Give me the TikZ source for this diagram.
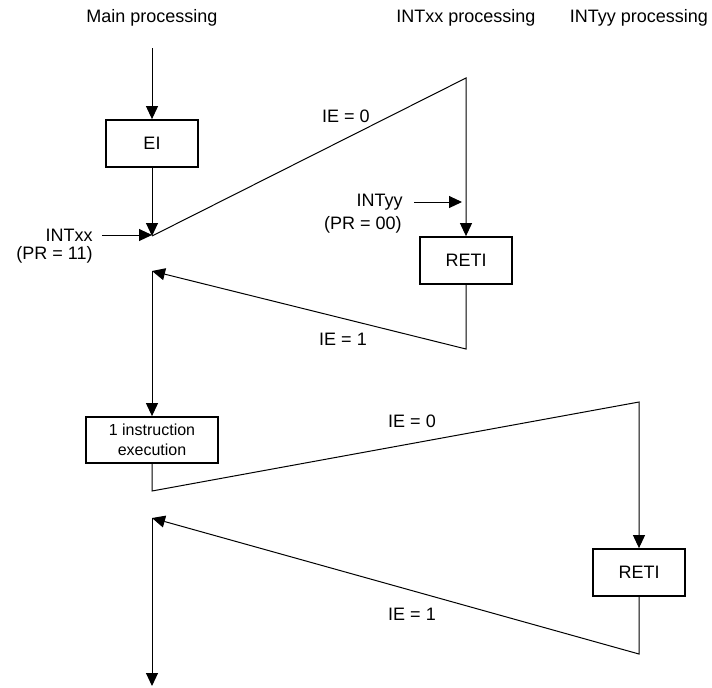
\documentclass[tikz,border=0pt]{standalone}
\usepackage{fontspec}
\setmainfont{Liberation Sans}
\usetikzlibrary{arrows.meta,positioning}
\tikzset{
  procblk/.style={draw,rectangle,line width=0.9pt,minimum width=46pt,minimum height=23.5pt,inner sep=1pt,align=center,font=\fontsize{9}{11}\selectfont},
  smallblk/.style={procblk,minimum width=66pt,minimum height=23pt,font=\fontsize{8}{10}\selectfont},
  arr/.style={-{Triangle[length=6.5pt,width=6pt]},line width=0.5pt},
  lbl/.style={font=\fontsize{9}{11}\selectfont,inner sep=0pt}
}

\begin{document}
\begin{tikzpicture}[x=0.5pt,y=-0.5pt]
  \useasboundingbox (0,0) rectangle (712,687);
  % column headings
  \node[lbl] (mainhd) at (152,18) {Main processing};
  \node[lbl] (xxhd) at (466,18) {INTxx processing};
  \node[lbl] (yyhd) at (639,18) {INTyy processing};

  % main processing
  \coordinate (start) at (152,48);
  \node[procblk] (ei) at (152,143.5) {EI};
  \coordinate (acc1) at (152,236);
  \coordinate (ret1) at (152,271);
  \node[smallblk] (one) at (152,440) {1 instruction\\execution};
  \coordinate (acc2) at (152,491);
  \coordinate (ret2) at (152,518);
  \coordinate (stop) at (152,686);

  % INTxx processing
  \coordinate (top1) at (466,78);
  \node[procblk] (reti1) at (466,260.5) {RETI};
  \coordinate (bot1) at (466,349);

  % INTyy processing
  \coordinate (top2) at (639,402);
  \node[procblk] (reti2) at (639,572.5) {RETI};
  \coordinate (bot2) at (639,654);

  % interrupt requests
  \node[lbl,anchor=east] (intxx) at (93,235) {INTxx};
  \node[lbl,anchor=east] (prxx) at (93,255) {(PR = 11)};
  \node[lbl,anchor=east] (intyy) at (403,202) {INTyy};
  \node[lbl,anchor=east] (pryy) at (402,225) {(PR = 00)};

  % IE flags
  \node[lbl] (ie0a) at (346,116) {IE = 0};
  \node[lbl] (ie1a) at (343,339) {IE = 1};
  \node[lbl] (ie0b) at (412,421) {IE = 0};
  \node[lbl] (ie1b) at (412,614) {IE = 1};

  \draw[arr] (start) -- (ei);
  \draw[arr] (ei) -- (acc1);
  \draw[arr] (acc1) -- (top1) -- (reti1);
  \draw[arr] (reti1) -- (bot1) -- (ret1);
  \draw[arr] (ret1) -- (one);
  \draw[arr] (one) -- (acc2) -- (top2) -- (reti2);
  \draw[arr] (reti2) -- (bot2) -- (ret2);
  \draw[arr] (ret2) -- (stop);

  \draw[arr,shorten <=4.5pt] (intxx.east) -- (intxx.east -| acc1);
  \draw[arr,shorten <=5.5pt,shorten >=2pt] (intyy.east) -- (intyy.east -| top1);
\end{tikzpicture}
\end{document}
